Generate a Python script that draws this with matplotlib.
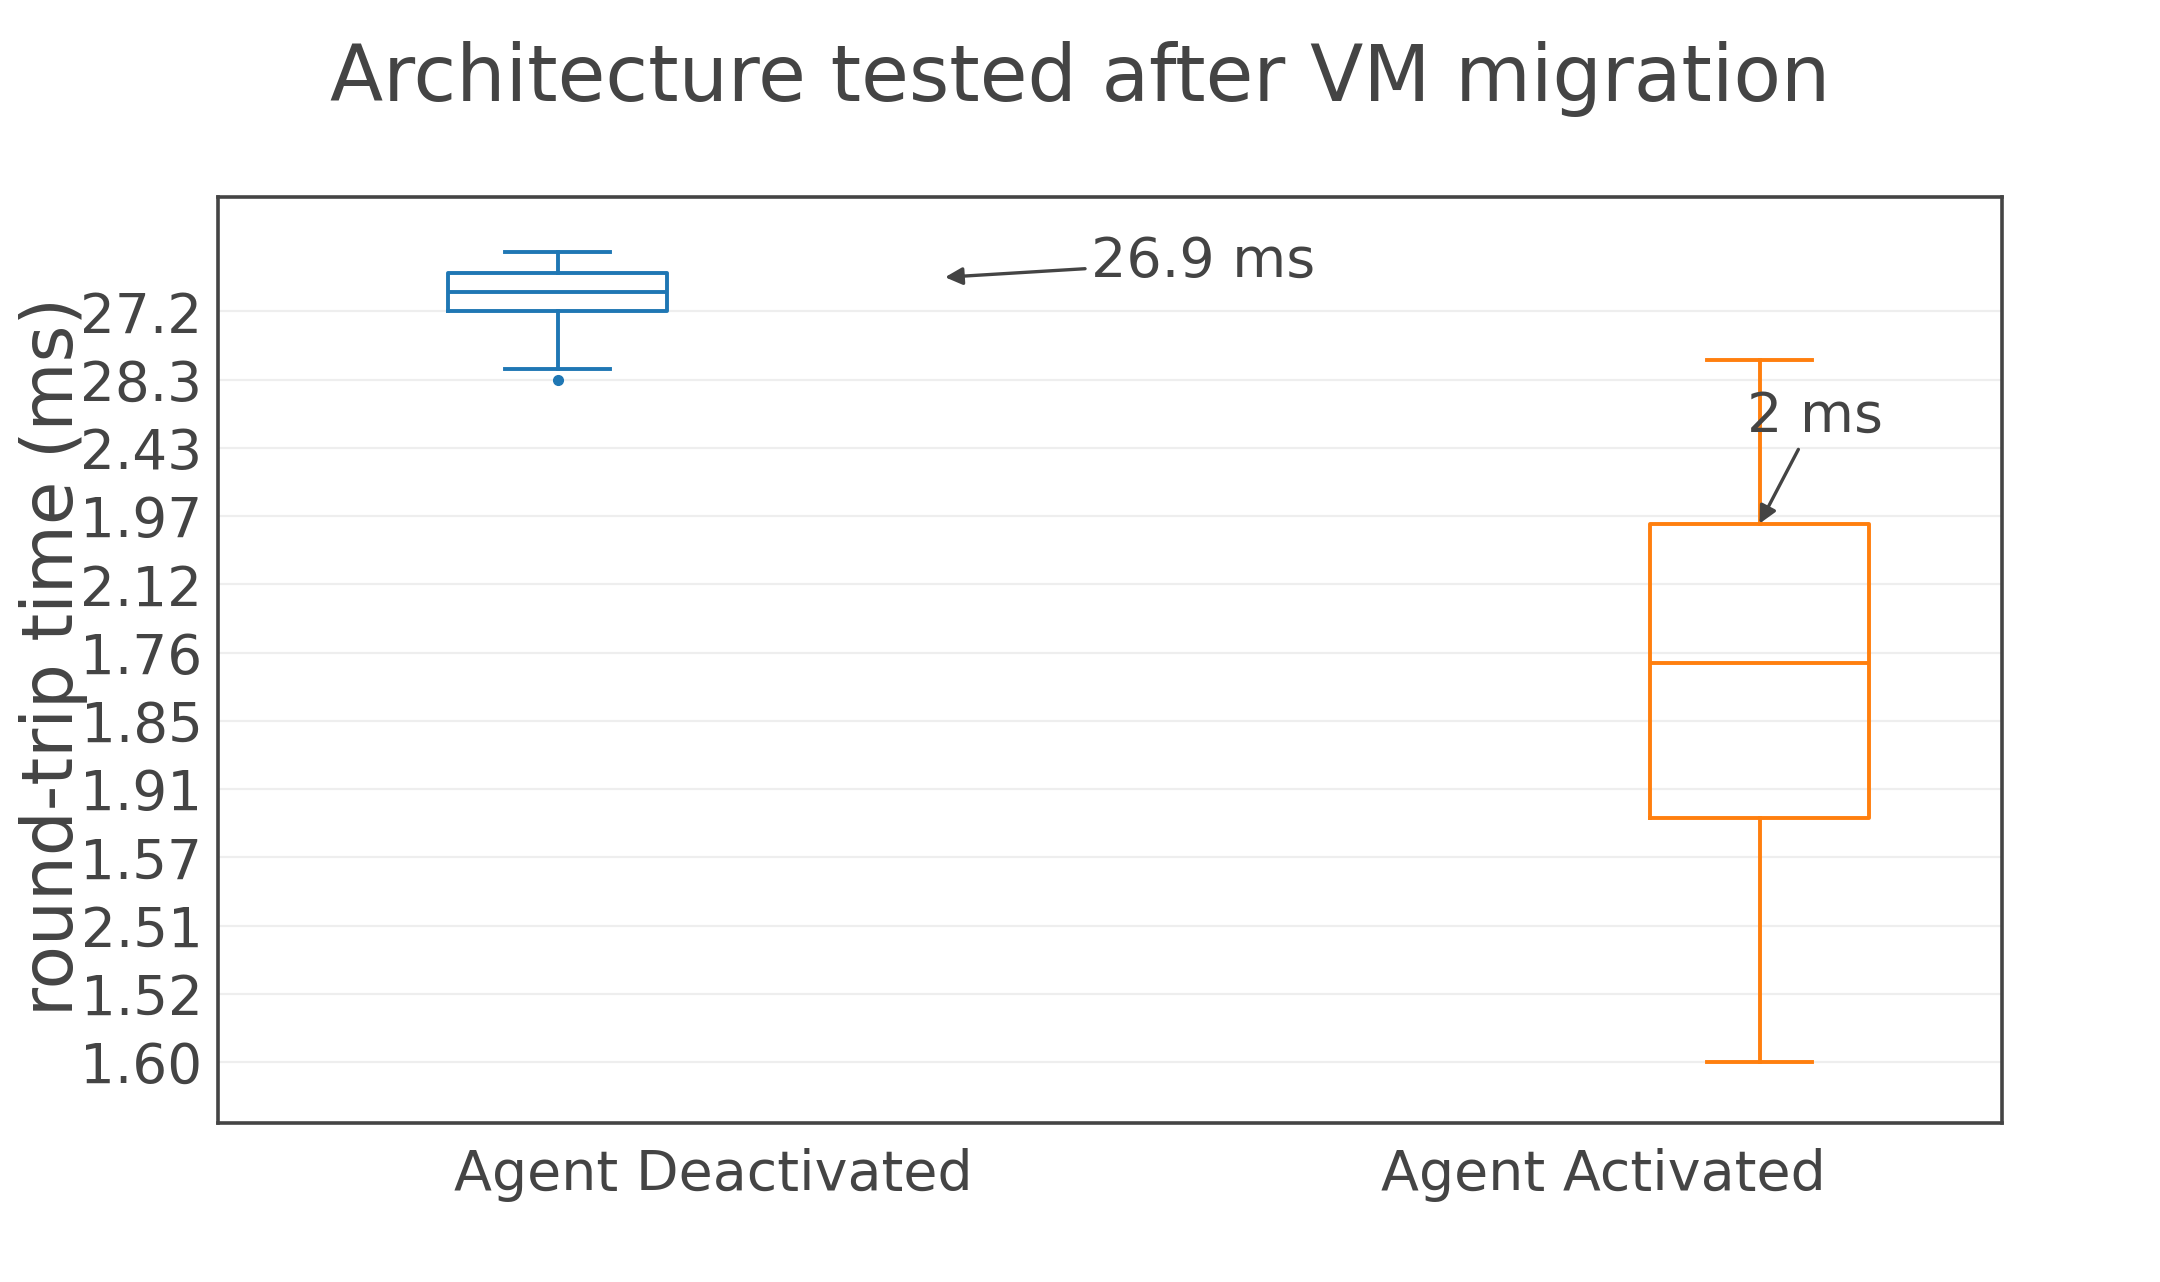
import matplotlib
matplotlib.use('Agg')
import matplotlib.pyplot as plt

plt.rcParams['font.family'] = ['DejaVu Sans']

# y axis is categorical: labels listed bottom to top
y_categories = ['1.60', '1.52', '2.51', '1.57', '1.91', '1.85', '1.76',
                '2.12', '1.97', '2.43', '28.3', '27.2']
groups = ['Agent Deactivated', 'Agent Activated']
colors = ['#1f77b4', '#ff7f0e']

# box statistics in category-index units
whislo = [10.15, 0.0]
q1 = [11.0, 3.57]
med = [11.28, 5.85]
q3 = [11.565, 7.89]
whishi = [11.87, 10.29]
fliers = [[10.0], []]

offsets = [-0.175, 0.175]

ann_text = ['26.9 ms', '2 ms']
ann_xy = [(0.26, 11.50), (1.175, 7.89)]
ann_text_xy = [(0.5495, 11.73), (1.2376, 9.45)]

fig = plt.figure(figsize=(21.6, 12.82), dpi=100)
ax = fig.add_axes([0.1008, 0.1242, 0.8259, 0.7221])

for i in range(len(groups)):
    st = dict(med=med[i], q1=q1[i], q3=q3[i], whislo=whislo[i],
              whishi=whishi[i], fliers=fliers[i])
    c = colors[i]
    ax.bxp([st], positions=[i + offsets[i]], widths=0.246, showfliers=True,
           boxprops=dict(color=c, lw=2.8),
           medianprops=dict(color=c, lw=2.8),
           whiskerprops=dict(color=c, lw=2.8),
           capprops=dict(color=c, lw=2.8),
           capwidths=0.118,
           flierprops=dict(marker='o', markerfacecolor=c, markeredgecolor=c,
                           markersize=7),
           zorder=3)

for t, xy, xyt in zip(ann_text, ann_xy, ann_text_xy):
    ax.annotate(t, xy=xy, xytext=xyt, ha='center', va='center',
                fontsize=40, color='#444444',
                arrowprops=dict(arrowstyle='-|>', color='#444444', lw=2.4,
                                mutation_scale=26, shrinkA=2, shrinkB=0),
                zorder=4)

ax.set_xlim(-0.557, 1.447)
ax.set_ylim(-0.89, 12.675)
ax.set_xticks(range(len(groups)))
ax.set_xticklabels(groups, fontsize=40, color='#444444')
ax.set_yticks(range(len(y_categories)))
ax.set_yticklabels(y_categories, fontsize=39.5, color='#444444')
ax.tick_params(length=0)
ax.tick_params(axis='y', pad=11)
ax.tick_params(axis='x', pad=18)
ax.grid(axis='y', color='#eeeeee', lw=1.6, zorder=0)
ax.set_axisbelow(True)
for s in ax.spines.values():
    s.set_color('#444444')
    s.set_linewidth(2.6)

fig.text(0.025, 0.488, 'round-trip time (ms)', rotation=90, ha='center',
         va='center', fontsize=51, color='#444444')
fig.suptitle('Architecture tested after VM migration', x=0.5, y=0.938,
             va='center', fontsize=56, color='#444444')

fig.savefig('out.png', dpi=100, facecolor='white')
